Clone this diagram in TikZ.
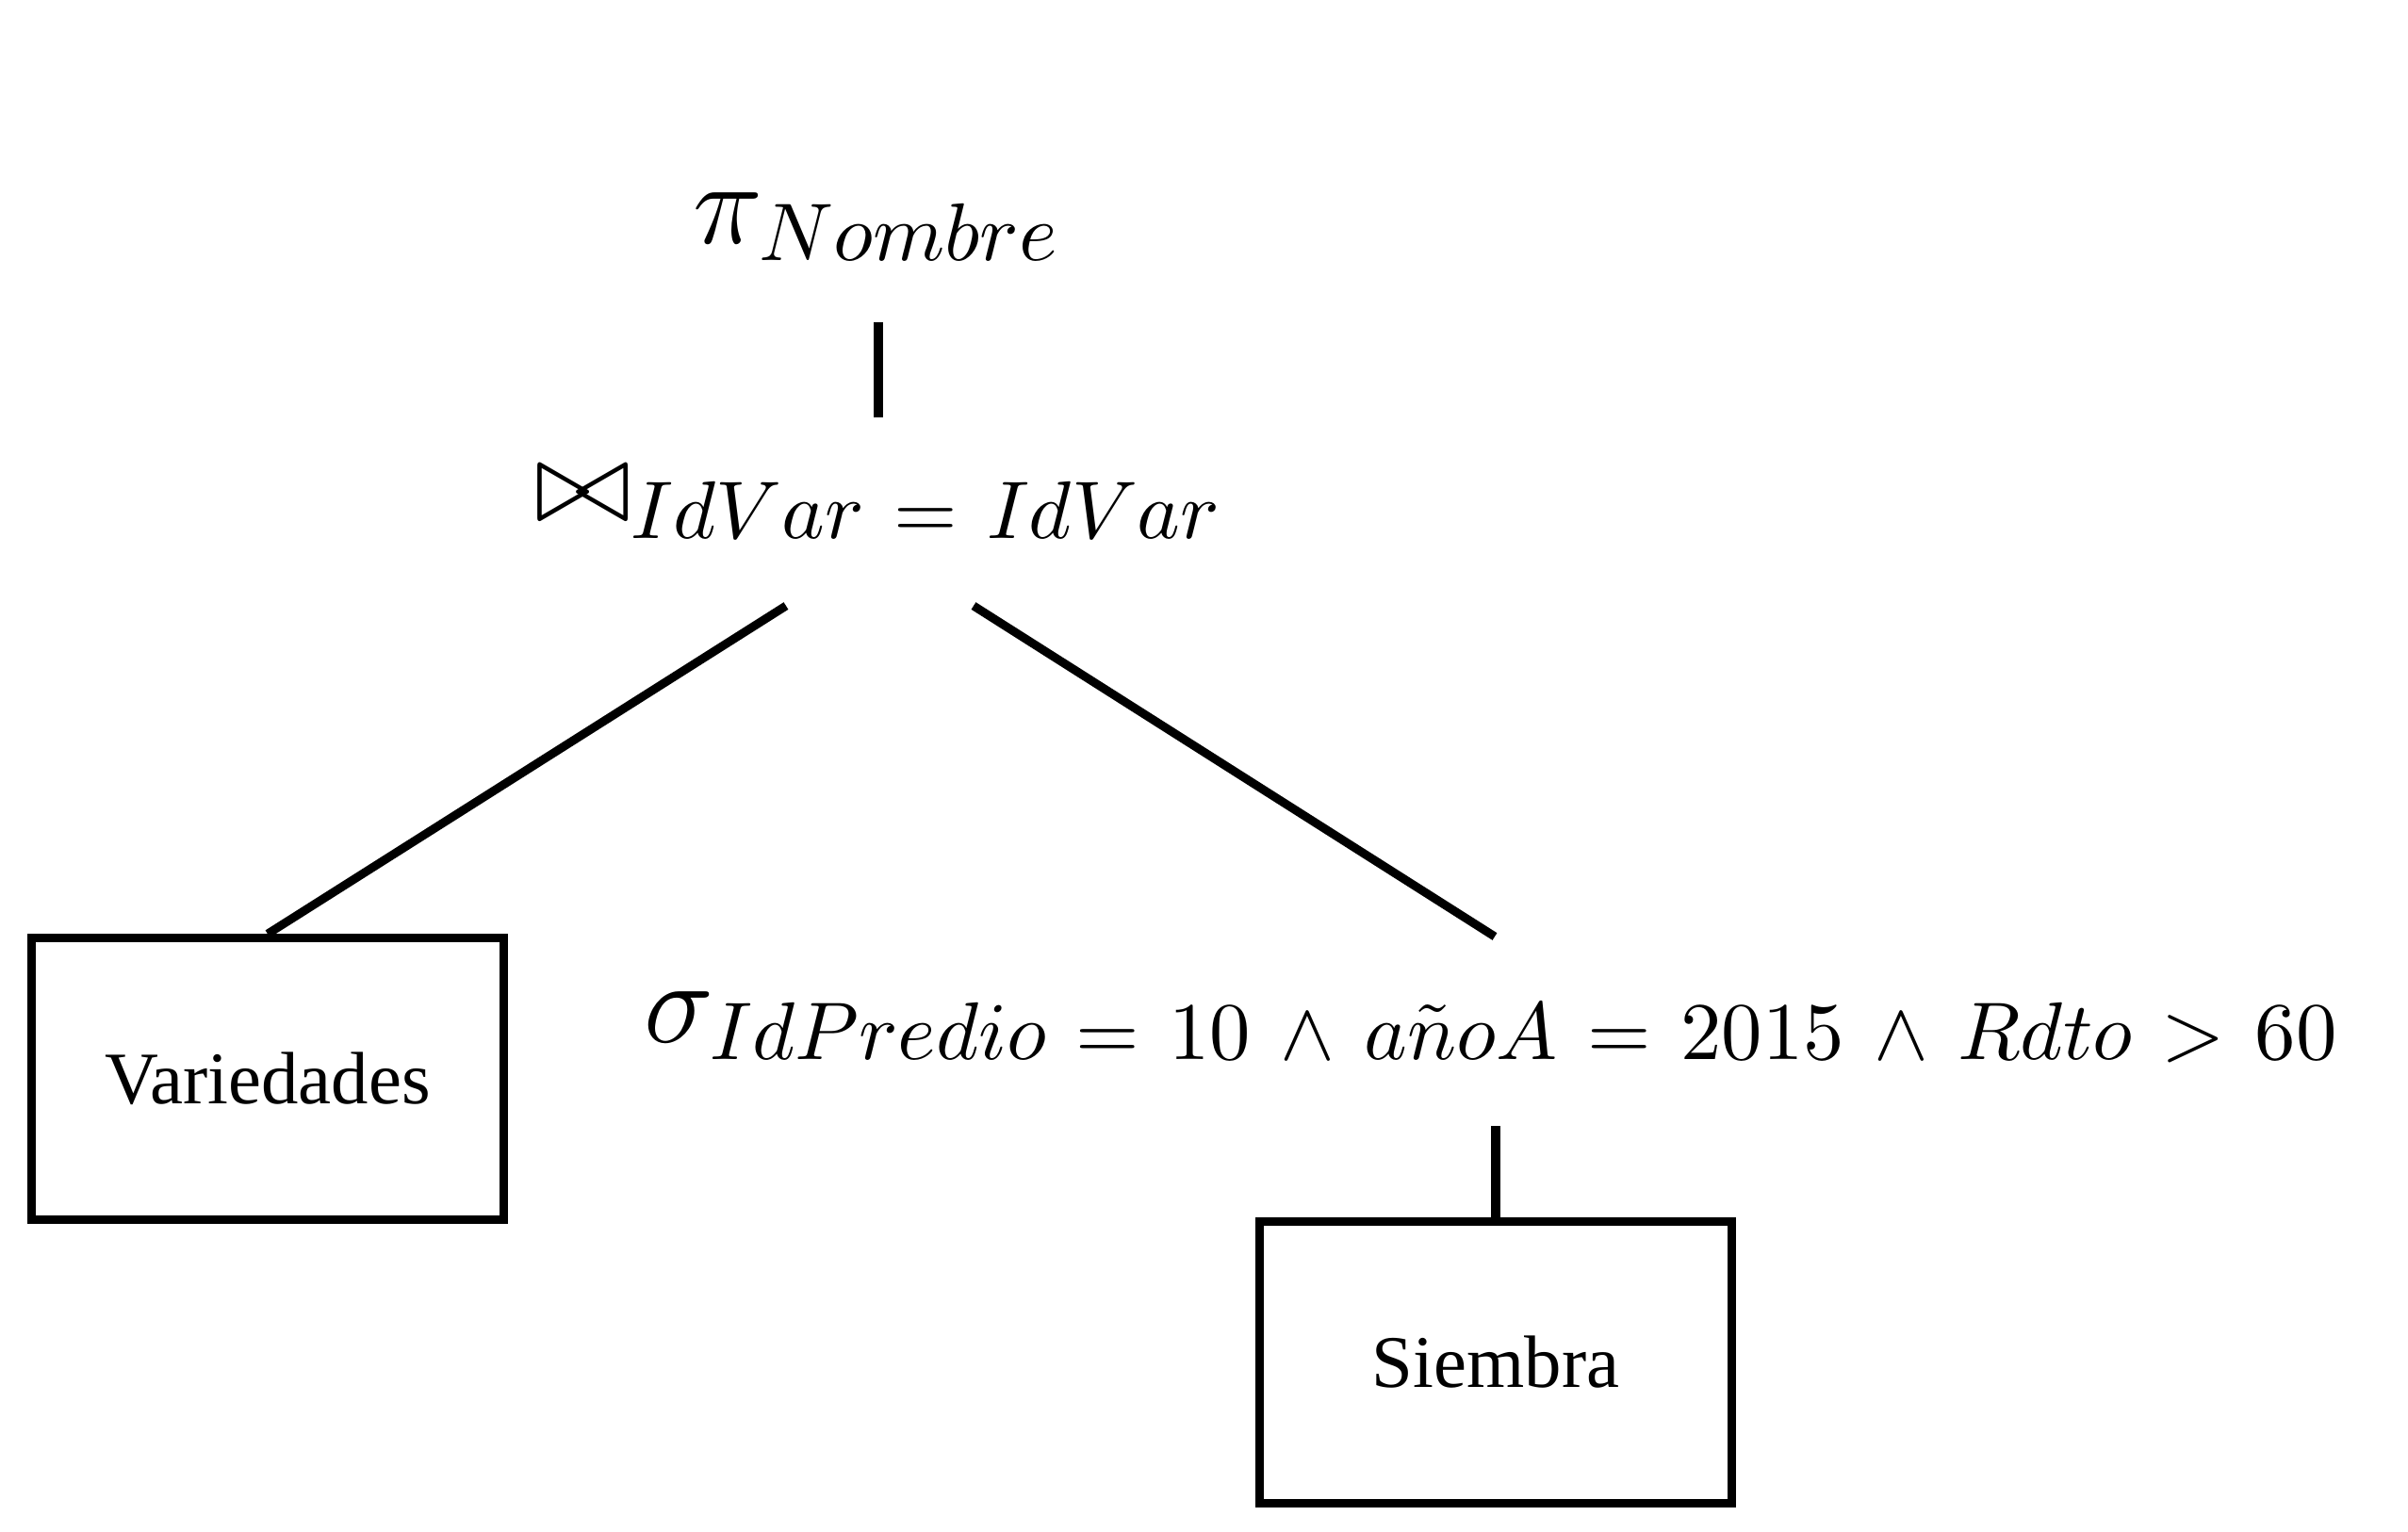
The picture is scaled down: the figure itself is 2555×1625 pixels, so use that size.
\documentclass[tikz,border=0pt]{standalone}
\usepackage{fontspec}
\newfontfamily\timesfont{Liberation Serif}
\newcommand{\relgap}{\mskip6.5mu}
\begin{document}
\begin{tikzpicture}[x=0.1152pt,y=-0.1152pt,
  edge/.style={line width=1.04pt},
  rel/.style={inner sep=0pt, anchor=base west, font=\fontsize{14.4}{17}\selectfont},
  tbl/.style={draw, line width=1.04pt, minimum width=57.7pt, minimum height=34.4pt,
    inner sep=0pt, font=\timesfont\fontsize{9.07}{10}\selectfont}]
\useasboundingbox (0,0) rectangle (2555,1625);
% operator labels
\node[rel] (proj) at (734,258) {$\pi_{Nombre}$};
\node[rel] (join) at (566,553) {$\bowtie_{IdVar\relgap=\relgap IdVar}$};
\node[rel] (sel) at (682,1106) {$\sigma_{IdPredio\relgap=\relgap10\relgap\wedge\relgap a\tilde{n}oA\relgap=\relgap2015\relgap\wedge\relgap Rdto\relgap>\relgap60}$};
% relations
\node[tbl] (var) at (284,1145) {Variedades};
\node[tbl] (sie) at (1587,1446) {Siembra};
% connector end points
\coordinate (pt) at (932,342);
\coordinate (pb) at (932,443);
\coordinate (jl) at (834,643);
\coordinate (jr) at (1033,643);
\coordinate (sr) at (1586,994);
\coordinate (sb) at (1587,1195);
% connectors
\draw[edge] (pt) -- (pb);
\draw[edge] (jl) -- (var.north);
\draw[edge] (jr) -- (sr);
\draw[edge] (sb) -- (sie.north);
\end{tikzpicture}
\end{document}
